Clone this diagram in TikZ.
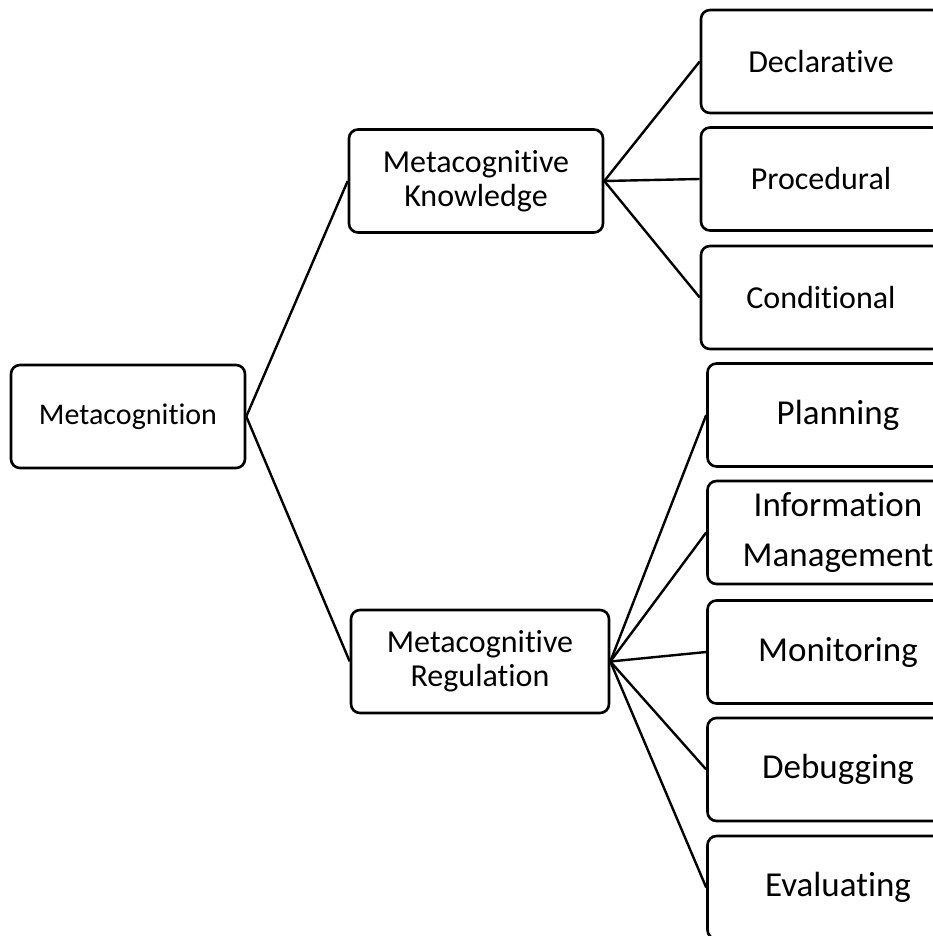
\documentclass[tikz,border=0pt]{standalone}
\usepackage{fontspec}
\setmainfont{Carlito}[Ligatures={NoCommon}]
\begin{document}
\begin{tikzpicture}[x=1pt,y=-1pt,
  box/.style={draw, line width=2.6pt, rounded corners=9pt, align=center, inner sep=0pt,
    minimum height=103pt, font=\fontsize{32}{34}\selectfont},
  leftbox/.style={box, minimum width=234pt, font=\fontsize{30}{34}\selectfont},
  midbox/.style={box, minimum width=254pt},
  upbox/.style={box, minimum width=240pt},
  lowbox/.style={box, minimum width=261pt, font=\fontsize{35}{50}\selectfont},
  link/.style={line width=2.4pt}]
\useasboundingbox[fill=white] (0,0) rectangle (933,936);
\clip (0,0) rectangle (933,936);
% nodes
\node[leftbox] (meta) at (128,416.5) {Metacognition};
\node[midbox] (mk) at (476,181) {Metacognitive\\Knowledge};
\node[midbox, minimum width=258pt] (mr) at (480,661.5) {Metacognitive\\Regulation};
\node[upbox] (decl) at (821,61.5) {Declarative};
\node[upbox] (proc) at (821,179) {Procedural};
\node[upbox] (cond) at (821,297.5) {Conditional};
\node[lowbox] (plan) at (838,415) {Planning};
\node[lowbox] (info) at (838,532.5) {Information\\Management};
\node[lowbox] (moni) at (838,652) {Monitoring};
\node[lowbox] (debu) at (838,769.5) {Debugging};
\node[lowbox] (eval) at (838,887.5) {Evaluating};
% connectors
\draw[link] (meta.east) -- (mk.west);
\draw[link] (meta.east) -- (mr.west);
\draw[link] (mk.east) -- (decl.west);
\draw[link] (mk.east) -- (proc.west);
\draw[link] (mk.east) -- (cond.west);
\draw[link] (mr.east) -- (plan.west);
\draw[link] (mr.east) -- (info.west);
\draw[link] (mr.east) -- (moni.west);
\draw[link] (mr.east) -- (debu.west);
\draw[link] (mr.east) -- (eval.west);
\end{tikzpicture}
\end{document}
